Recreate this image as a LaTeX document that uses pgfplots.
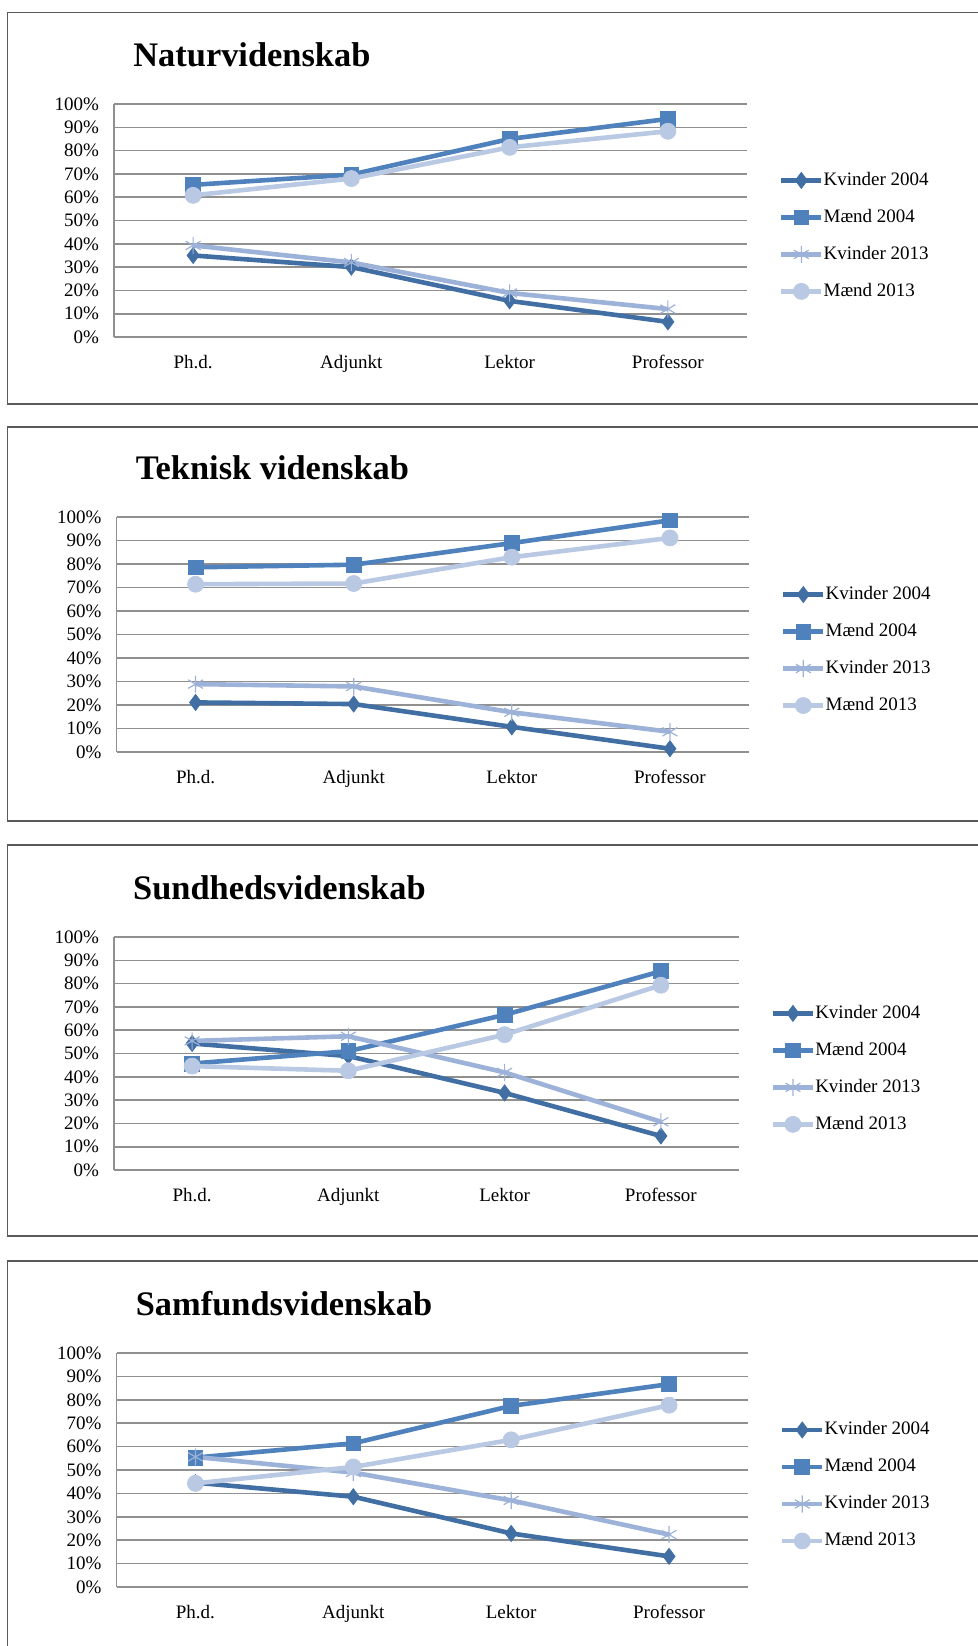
\documentclass[border=0pt]{standalone}
\usepackage{fontspec}
\setmainfont{Liberation Serif}
\usepackage{pgfplots}
\pgfplotsset{compat=1.18}
\definecolor{kA}{HTML}{416FA4}
\definecolor{mA}{HTML}{4F81BD}
\definecolor{kB}{HTML}{9DB2D9}
\definecolor{mB}{HTML}{B9C9E3}
\definecolor{gridc}{HTML}{909090}
\definecolor{framec}{HTML}{5A5A5A}
\pgfplotsset{
  panel/.style={
    scale only axis,
    anchor=south west,
    xmin=-0.5, xmax=3.5, ymin=0, ymax=100,
    xtick={0,1,2,3},
    xticklabels={Ph.d., Adjunkt, Lektor, Professor},
    ytick={0,10,...,100},
    yticklabel={\pgfmathprintnumber[assume math mode=true]{\tick}\%},
    /pgf/number format/assume math mode=true,
    ymajorgrids,
    grid style={draw=gridc, line width=0.8pt},
    axis x line=bottom, axis y line=left,
    axis line style={draw=gridc, line width=0.8pt, -},
    major tick length=0pt,
    tick label style={font=\fontsize{9.5}{11}\selectfont},
    xticklabel style={yshift=-5.5pt},
    yticklabel style={xshift=-4pt},
    title style={font=\fontsize{17.2}{20}\bfseries, anchor=west, at={(rel axis cs:0.03,1.158)}, inner sep=0pt},
    legend style={draw=none, fill=none, at={(rel axis cs:1.05,0.434)}, anchor=west,
      inner sep=0pt, row sep=9.5pt, font=\fontsize{9.5}{11}\selectfont,
      nodes={inner sep=0pt, text height=7pt, text depth=2pt}},
    legend cell align=left,
    legend image code/.code={%
      \draw[mark repeat=2,mark phase=2,##1] plot coordinates {(0pt,0pt) (10pt,0pt) (20pt,0pt)};},
    every axis plot/.append style={line width=2.3pt},
    clip=false,
  },
  kAs/.style={color=kA, mark=diamond*, mark size=4pt, mark options={solid, fill=kA, line width=0.4pt}},
  mAs/.style={color=mA, mark=square*, mark size=3.7pt, mark options={solid, fill=mA, line width=0.4pt}},
  kBs/.style={color=kB, mark=asterisk, mark size=4.3pt, mark options={solid, line width=0.6pt}},
  mBs/.style={color=mB, mark=*, mark size=4pt, mark options={solid, fill=mB, line width=0.4pt}},
}
\begin{document}
\begin{tikzpicture}
\path[use as bounding box] (0pt,0pt) rectangle (489pt,-823pt);
\draw[framec, line width=0.7pt] (3.6pt,-6.3pt) rectangle (500pt,-202pt);
\draw[framec, line width=0.7pt] (3.6pt,-213.5pt) rectangle (500pt,-410.5pt);
\draw[framec, line width=0.7pt] (3.6pt,-422.5pt) rectangle (500pt,-618pt);
\draw[framec, line width=0.7pt] (3.6pt,-630.5pt) rectangle (500pt,-840pt);

% Panel 1
\begin{axis}[panel, at={(57pt,-168.5pt)}, width=316.5pt, height=116.5pt, title={Naturvidenskab}]
\addplot[kAs] coordinates {(0,35.0) (1,30.0) (2,15.5) (3,6.5)};
\addplot[mAs] coordinates {(0,65.3) (1,69.7) (2,85.0) (3,93.6)};
\addplot[kBs] coordinates {(0,39.3) (1,32.0) (2,18.9) (3,12.0)};
\addplot[mBs] coordinates {(0,60.8) (1,68.0) (2,81.4) (3,88.3)};
\legend{Kvinder 2004, Mænd 2004, Kvinder 2013, Mænd 2013}
\end{axis}

% Panel 2
\begin{axis}[panel, at={(58.25pt,-376pt)}, width=316.25pt, height=117.5pt, title={Teknisk videnskab}]
\addplot[kAs] coordinates {(0,21.1) (1,20.4) (2,10.7) (3,1.4)};
\addplot[mAs] coordinates {(0,78.6) (1,79.7) (2,88.9) (3,98.6)};
\addplot[kBs] coordinates {(0,28.9) (1,27.9) (2,16.9) (3,8.6)};
\addplot[mBs] coordinates {(0,71.4) (1,71.7) (2,82.9) (3,91.1)};
\legend{Kvinder 2004, Mænd 2004, Kvinder 2013, Mænd 2013}
\end{axis}

% Panel 3
\begin{axis}[panel, at={(57pt,-585pt)}, width=312.5pt, height=116.5pt, title={Sundhedsvidenskab}]
\addplot[kAs] coordinates {(0,54.3) (1,48.9) (2,33.1) (3,14.6)};
\addplot[mAs] coordinates {(0,45.7) (1,51.0) (2,66.6) (3,85.3)};
\addplot[kBs] coordinates {(0,55.4) (1,57.4) (2,41.9) (3,20.7)};
\addplot[mBs] coordinates {(0,44.6) (1,42.6) (2,58.1) (3,79.3)};
\legend{Kvinder 2004, Mænd 2004, Kvinder 2013, Mænd 2013}
\end{axis}

% Panel 4
\begin{axis}[panel, at={(58.25pt,-793.5pt)}, width=315.75pt, height=117pt, title={Samfundsvidenskab}]
\addplot[kAs] coordinates {(0,44.6) (1,38.6) (2,22.9) (3,13.1)};
\addplot[mAs] coordinates {(0,55.3) (1,61.4) (2,77.4) (3,86.7)};
\addplot[kBs] coordinates {(0,55.6) (1,48.9) (2,37.0) (3,22.4)};
\addplot[mBs] coordinates {(0,44.3) (1,51.3) (2,62.9) (3,77.7)};
\legend{Kvinder 2004, Mænd 2004, Kvinder 2013, Mænd 2013}
\end{axis}
\end{tikzpicture}
\end{document}
